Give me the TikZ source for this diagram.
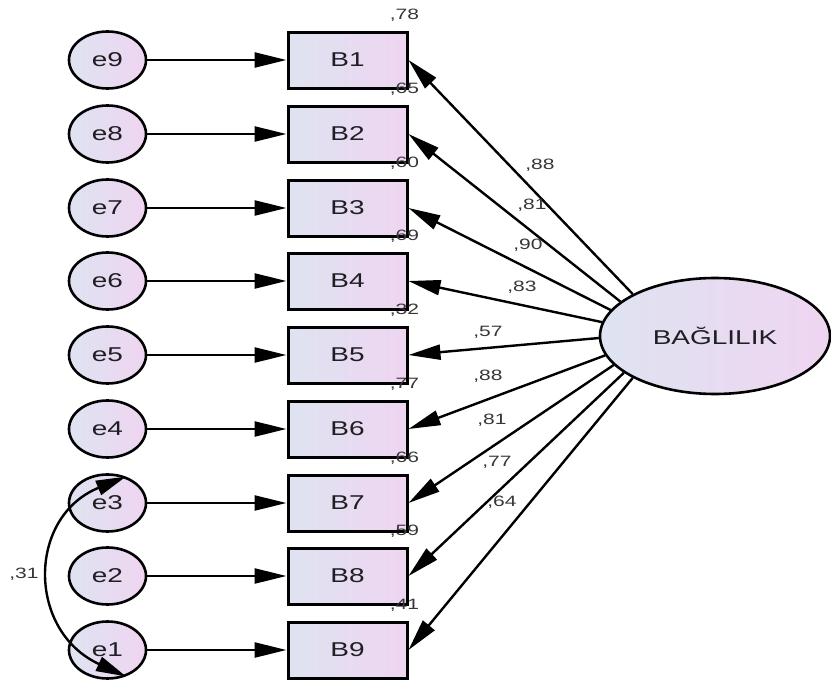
\documentclass[tikz,border=0pt]{standalone}
\usepackage{fontspec}
\setmainfont{Liberation Sans}[FakeStretch=1.4]
\usetikzlibrary{shapes.geometric,arrows.meta,calc}

\definecolor{fillA}{RGB}{222,227,241}
\definecolor{fillB}{RGB}{239,213,241}
\definecolor{txt}{RGB}{30,30,35}
\definecolor{num}{RGB}{55,55,55}

\tikzset{
  errvar/.style={ellipse, draw, line width=2.6pt, minimum width=77pt, minimum height=57pt,
    inner sep=0pt, left color=fillA, right color=fillB, text=txt,
    font=\fontsize{20}{20}\selectfont},
  obsvar/.style={rectangle, draw, line width=3pt, minimum width=119pt, minimum height=56pt,
    inner sep=0pt, left color=fillA, right color=fillB, text=txt,
    font=\fontsize{20}{20}\selectfont},
  latvar/.style={ellipse, draw, line width=2.6pt, minimum width=230pt, minimum height=116pt,
    inner sep=0pt, left color=fillA, right color=fillB, text=txt,
    font=\fontsize{20}{20}\selectfont},
  regpath/.style={line width=2.4pt, -{Triangle[length=32pt,width=15pt]}},
  covpath/.style={line width=2.4pt, {Triangle[length=30pt,width=15pt]}-{Triangle[length=30pt,width=15pt]}},
  coef/.style={text=num, inner sep=0pt, font=\fontsize{15}{15}\selectfont},
}

\begin{document}
\begin{tikzpicture}[x=1pt,y=-1pt]
  \useasboundingbox (0,0) rectangle (831,680);

  % latent factor
  \node[latvar] (L) at (715,336) {BAĞLILIK};

  % indicators and their error terms, B1 at the top down to B9;
  % \a is the angle on the factor ellipse where each loading path starts
  \foreach \i/\e/\y/\a in {1/9/60/153, 2/8/134/160, 3/7/208/166, 4/6/281/173,
                           5/5/355/181, 6/4/429/190, 7/3/503/196, 8/2/576/202,
                           9/1/650/207} {
    \node[errvar] (e\e) at (107.5,\y) {e\e};
    \node[obsvar] (B\i) at (347.5,\y) {B\i};
    \draw[regpath] (e\e.east) -- (B\i.west);
    \draw[regpath] (L.\a) -- (B\i.east);
  }

  % squared multiple correlations
  \foreach \i/\v in {1/78, 2/65, 3/60, 4/69, 5/32, 6/77, 7/66, 8/59, 9/41} {
    \node[coef] (r\i) at ($(B\i.north east)+(-4,-15)$) {,\v};
  }

  % standardized loadings
  \node[coef] (l1) at (540,165) {,88};
  \node[coef] (l2) at (532,205) {,81};
  \node[coef] (l3) at (528,245) {,90};
  \node[coef] (l4) at (522,287) {,83};
  \node[coef] (l5) at (488,332) {,57};
  \node[coef] (l6) at (488,376) {,88};
  \node[coef] (l7) at (492,420) {,81};
  \node[coef] (l8) at (497,462) {,77};
  \node[coef] (l9) at (502,502) {,64};

  % error covariance e3 <-> e1
  \draw[covpath] (e3.55) .. controls (27,517) and (27,631) .. (e1.-55);
  \node[coef] (c31) at (24,574) {,31};
\end{tikzpicture}
\end{document}
